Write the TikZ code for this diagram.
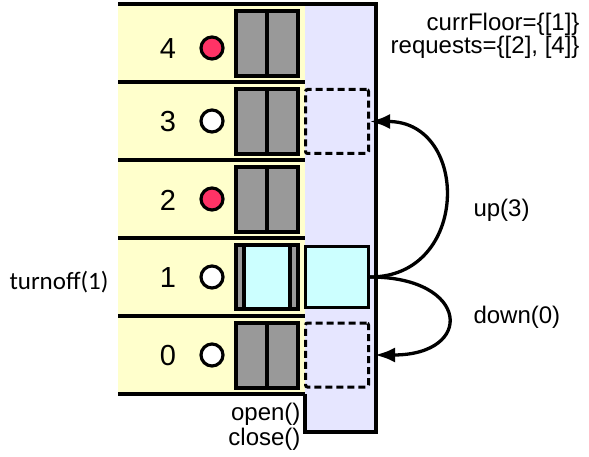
\documentclass[tikz,border=0pt]{standalone}
\usepackage{fontspec}
\setmainfont{Liberation Sans}
\newfontfamily\notefont{Carlito}
\usetikzlibrary{arrows.meta}
\usetikzlibrary{positioning}

\definecolor{floorYellow}{HTML}{FFFFCC}
\definecolor{shaftBlue}{HTML}{E6E6FF}
\definecolor{doorGray}{HTML}{999999}
\definecolor{callRed}{HTML}{FF3366}
\definecolor{cabCyan}{HTML}{CCFFFF}

\begin{document}
\begin{tikzpicture}[x=1pt,y=-1pt,
  font=\fontsize{24}{24}\selectfont,
  wall/.style={line width=3.6pt},
  doorline/.style={draw,line width=3.3pt},
  light/.style={circle,draw,line width=3.2pt,minimum size=22pt,inner sep=0pt},
  cabin/.style={draw,line width=3pt,fill=cabCyan,minimum width=63pt,minimum height=60pt,inner sep=0pt},
  target/.style={draw,line width=3pt,dash pattern=on 7pt off 4pt,rounded corners=2pt,minimum width=63pt,minimum height=64pt,inner sep=0pt},
  move/.style={line width=3.3pt,-{Latex[length=20pt,width=15pt]}}]

  \useasboundingbox (0,0) rectangle (589,457);

  \def\floorH{78}
  \def\groundY{355} % centre of floor 0

  % Shaft
  \fill[shaftBlue] (305,4) rectangle (376,432);

  % Floors: band, door, call light and number
  \foreach \f/\c in {0/white,1/white,2/callRed,3/white,4/callRed}{
    \pgfmathsetmacro\cy{\groundY-\floorH*\f}
    \pgfmathsetmacro\ly{\cy+5*(\f==4)} % top floor sits a little lower
    \fill[floorYellow] (118,\cy-39) rectangle (305,\cy+39);
    \draw[wall] (118,\cy+39) -- (305,\cy+39);
    \node[light,fill=\c] (light\f) at (212,\ly) {};
    \node[font=\fontsize{29}{29}\selectfont] (num\f) at (168,\ly+1) {\f};
  }

  % Closed doors
  \foreach \f in {0,2,3,4}{
    \pgfmathsetmacro\cy{\groundY-\floorH*\f}
    \draw[doorline,fill=doorGray] (236,\cy-32) rectangle (267,\cy+33);
    \draw[doorline,fill=doorGray] (267,\cy-32) rectangle (298,\cy+33);
  }

  % Open door at floor 1
  \draw[doorline,fill=cabCyan] (236,245) rectangle (298,309);
  \draw[doorline,fill=doorGray] (236,245) rectangle (244,309);
  \draw[doorline,fill=doorGray] (290,245) rectangle (298,309);

  % Shaft walls
  \draw[wall] (118,4) -- (376,4) -- (376,432) -- (305,432) -- (305,394);

  % Cabin and target positions
  \node[cabin] (cab) at (337,277) {};
  \node[target] (tgt3) at (337,121.5) {};
  \node[target] (tgt0) at (337,355) {};

  % Moves
  \draw[move] (cab.east) .. controls +(100,0) and +(100,0) .. (tgt3.east);
  \draw[move] (cab.east) .. controls +(100,0) and +(100,0) .. ([xshift=5pt]tgt0.east);

  % Labels
  \node[anchor=east] (curr) at (583,24) {currFloor=\{[1]\}};
  \node[anchor=east] (reqs) at (583,47) {requests=\{[2], [4]\}};
  \node[anchor=west] (up) at (470,210) {up(3)};
  \node[anchor=west] (down) at (470,317) {down(0)};
  \node[anchor=east,font=\notefont\fontsize{25}{25}\selectfont] (off) at (112,282) {turnoff(1)};
  \node[anchor=east] (open) at (304,414) {open()};
  \node[anchor=east] (close) at (304,439) {close()};
\end{tikzpicture}
\end{document}
